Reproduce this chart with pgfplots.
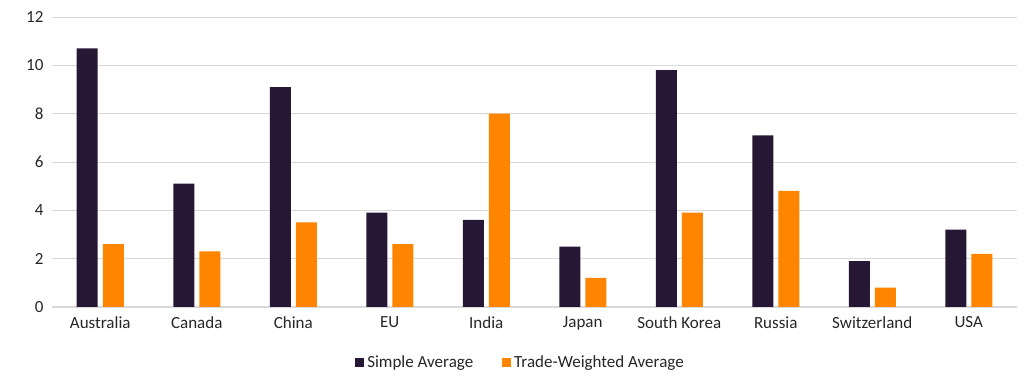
\documentclass[border=0pt]{standalone}
\usepackage{pgfplots}
\pgfplotsset{compat=1.18}
\usepackage{fontspec}
\setmainfont{Carlito}
\definecolor{darkbar}{HTML}{261835}
\definecolor{orangebar}{HTML}{FF8400}
\definecolor{gridc}{HTML}{D9D9D9}
\definecolor{txt}{HTML}{262626}
\begin{document}
\begin{tikzpicture}
\begin{axis}[
  scale only axis,
  width=965pt, height=290pt,
  ybar=5pt, bar width=21pt,
  xmin=-0.5, xmax=9.5,
  ymin=0, ymax=12,
  ytick={0,2,...,12},
  xtick=data,
  xticklabels={Australia,Canada,China,EU,India,Japan,South Korea,Russia,Switzerland,USA},
  axis x line*=bottom,
  axis y line*=left,
  y axis line style={draw=none},
  x axis line style={gridc, line width=1pt},
  ymajorgrids, grid style={gridc, line width=0.8pt},
  major tick length=0pt,
  tick label style={font=\fontsize{17}{19}\selectfont, text=txt},
  /pgf/number format/assume math mode=true,
  yticklabel style={xshift=-5pt},
  xticklabel style={yshift=-6pt},
  legend style={at={(axis description cs:0.486,-0.19)}, anchor=center, draw=none,
    font=\fontsize{17}{19}\selectfont, text=txt, legend columns=2,
    /tikz/every even column/.append style={column sep=26pt},
    nodes={inner xsep=3pt}},
  legend image code/.code={\fill[#1] (0pt,-4.5pt) rectangle (9pt,4.5pt);},
  clip=false,
]
\addplot[fill=darkbar, draw=none] coordinates {(0,10.7) (1,5.1) (2,9.1) (3,3.9) (4,3.6) (5,2.5) (6,9.8) (7,7.1) (8,1.9) (9,3.2)};
\addplot[fill=orangebar, draw=none] coordinates {(0,2.6) (1,2.3) (2,3.5) (3,2.6) (4,8.0) (5,1.2) (6,3.9) (7,4.8) (8,0.8) (9,2.2)};
\legend{Simple Average, Trade-Weighted Average}
\end{axis}
\path (current axis.south west) ++(-52pt,-83pt) rectangle ++(1035pt,390pt);
\end{tikzpicture}
\end{document}
